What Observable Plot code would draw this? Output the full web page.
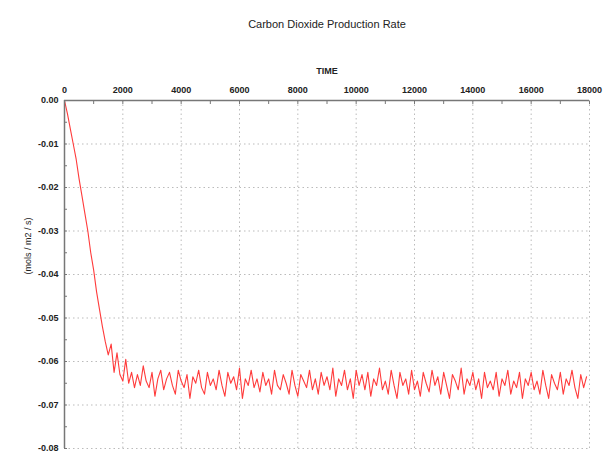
<!DOCTYPE html>
<html>
<head>
<meta charset="utf-8">
<script src="https://cdn.jsdelivr.net/npm/d3@7"></script>
<script src="https://cdn.jsdelivr.net/npm/@observablehq/plot@0.6"></script>
<style>
  html, body { margin: 0; padding: 0; background: #fff; }
  #chart { width: 611px; height: 452px; }
</style>
</head>
<body>
<div id="chart"></div>
<script>
const title = "Carbon Dioxide Production Rate";
const xLabel = "TIME";
const yLabel = "(mols / m2 / s)";
const xMajorTicks = [0, 2000, 4000, 6000, 8000, 10000, 12000, 14000, 16000, 18000];
const xMinorTicks = [1000, 3000, 5000, 7000, 9000, 11000, 13000, 15000, 17000];
const yMajorTicks = [0, -0.01, -0.02, -0.03, -0.04, -0.05, -0.06, -0.07, -0.08];
const yMinorTicks = [-0.005, -0.015, -0.025, -0.035, -0.045, -0.055, -0.065, -0.075];

const time = [
  0, 100, 200, 300, 400, 500, 600, 700, 800, 900,
  1000, 1100, 1200, 1300, 1400, 1500, 1600, 1700, 1800, 1900,
  2000, 2100, 2200, 2300, 2400, 2500, 2600, 2700, 2800, 2900,
  3000, 3100, 3200, 3300, 3400, 3500, 3600, 3700, 3800, 3900,
  4000, 4100, 4200, 4300, 4400, 4500, 4600, 4700, 4800, 4900,
  5000, 5100, 5200, 5300, 5400, 5500, 5600, 5700, 5800, 5900,
  6000, 6100, 6200, 6300, 6400, 6500, 6600, 6700, 6800, 6900,
  7000, 7100, 7200, 7300, 7400, 7500, 7600, 7700, 7800, 7900,
  8000, 8100, 8200, 8300, 8400, 8500, 8600, 8700, 8800, 8900,
  9000, 9100, 9200, 9300, 9400, 9500, 9600, 9700, 9800, 9900,
  10000, 10100, 10200, 10300, 10400, 10500, 10600, 10700, 10800, 10900,
  11000, 11100, 11200, 11300, 11400, 11500, 11600, 11700, 11800, 11900,
  12000, 12100, 12200, 12300, 12400, 12500, 12600, 12700, 12800, 12900,
  13000, 13100, 13200, 13300, 13400, 13500, 13600, 13700, 13800, 13900,
  14000, 14100, 14200, 14300, 14400, 14500, 14600, 14700, 14800, 14900,
  15000, 15100, 15200, 15300, 15400, 15500, 15600, 15700, 15800, 15900,
  16000, 16100, 16200, 16300, 16400, 16500, 16600, 16700, 16800, 16900,
  17000, 17100, 17200, 17300, 17400, 17500, 17600, 17700, 17800, 17900
];
const rate = [
  0, -0.003, -0.0065, -0.010, -0.0135, -0.018, -0.022, -0.026, -0.030, -0.035,
  -0.039, -0.044, -0.048, -0.052, -0.0555, -0.0585, -0.056, -0.0625, -0.058, -0.063,
  -0.0645, -0.0595, -0.065, -0.0625, -0.066, -0.063, -0.0655, -0.061, -0.0645, -0.066,
  -0.0625, -0.068, -0.064, -0.062, -0.0665, -0.064, -0.0625, -0.0655, -0.0675, -0.062,
  -0.0645, -0.066, -0.063, -0.0685, -0.0635, -0.065, -0.062, -0.066, -0.0675, -0.0625,
  -0.0655, -0.064, -0.0665, -0.062, -0.0655, -0.068, -0.0625, -0.065, -0.0635, -0.0665,
  -0.0615, -0.0685, -0.064, -0.0655, -0.062, -0.066, -0.064, -0.067, -0.0625, -0.0655,
  -0.064, -0.0675, -0.062, -0.0655, -0.0665, -0.063, -0.065, -0.0675, -0.062, -0.0655,
  -0.068, -0.063, -0.0645, -0.066, -0.062, -0.0665, -0.064, -0.0675, -0.0625, -0.0655,
  -0.0635, -0.0665, -0.0615, -0.068, -0.064, -0.0655, -0.062, -0.0665, -0.064, -0.0685,
  -0.062, -0.0655, -0.063, -0.0665, -0.0625, -0.068, -0.064, -0.0655, -0.0615, -0.0665,
  -0.0645, -0.0675, -0.062, -0.0655, -0.0685, -0.0625, -0.0655, -0.064, -0.0675, -0.062,
  -0.0665, -0.0645, -0.068, -0.0625, -0.065, -0.067, -0.062, -0.0655, -0.0635, -0.0675,
  -0.0625, -0.0655, -0.0685, -0.063, -0.0645, -0.0665, -0.0615, -0.0675, -0.064, -0.0655,
  -0.0625, -0.0665, -0.064, -0.0685, -0.0625, -0.066, -0.0645, -0.0665, -0.0625, -0.068,
  -0.064, -0.0655, -0.062, -0.0675, -0.0645, -0.066, -0.0625, -0.0685, -0.064, -0.0655,
  -0.0625, -0.0665, -0.0645, -0.0675, -0.062, -0.0655, -0.0685, -0.063, -0.065, -0.0665,
  -0.0625, -0.0675, -0.064, -0.0655, -0.062, -0.066, -0.0685, -0.063, -0.066, -0.0635
];
const data = time.map((t, i) => ({time: t, rate: rate[i]}));

const chart = Plot.plot({
  width: 611,
  height: 452,
  marginTop: 100,
  marginLeft: 64,
  marginRight: 22,
  marginBottom: 4,
  style: {fontFamily: "'Liberation Sans', Arial, sans-serif", fontSize: "9px", color: "#222", background: "#fff"},
  x: {domain: [0, 18000]},
  y: {domain: [-0.08, 0]},
  marks: [
    Plot.gridX(xMajorTicks, {stroke: "#bbb", strokeOpacity: 1, strokeDasharray: "1.5,3"}),
    Plot.gridY(yMajorTicks, {stroke: "#bbb", strokeOpacity: 1, strokeDasharray: "1.5,3"}),
    Plot.line(data, {x: "time", y: "rate", stroke: "#ff3b3b", strokeWidth: 1.1}),
    Plot.ruleY([0], {stroke: "#777", strokeWidth: 1.5}),
    Plot.ruleX([0], {stroke: "#777", strokeWidth: 1.5}),
    Plot.axisX(xMajorTicks, {anchor: "top", tickSize: 0, tickPadding: 8, tickFormat: d => String(d), label: null, fontWeight: "bold"}),
    Plot.axisX(xMajorTicks.concat(xMinorTicks), {anchor: "top", tickSize: -3, text: null, label: null, stroke: "#777"}),
    Plot.axisY(yMajorTicks, {anchor: "left", tickSize: 0, tickPadding: 6, tickFormat: d => d.toFixed(2), label: null, fontWeight: "bold"}),
    Plot.axisY(yMajorTicks.concat(yMinorTicks), {anchor: "left", tickSize: -3, text: null, label: null, stroke: "#777"}),
    Plot.text([xLabel], {frameAnchor: "top", dy: -33, fontSize: 9, fontWeight: "bold"}),
    Plot.text([yLabel], {frameAnchor: "left", dx: -36, rotate: -90, fontSize: 9}),
    Plot.text([title], {frameAnchor: "top", dy: -80, fontSize: 11})
  ]
});
document.getElementById("chart").appendChild(chart);
</script>
</body>
</html>
